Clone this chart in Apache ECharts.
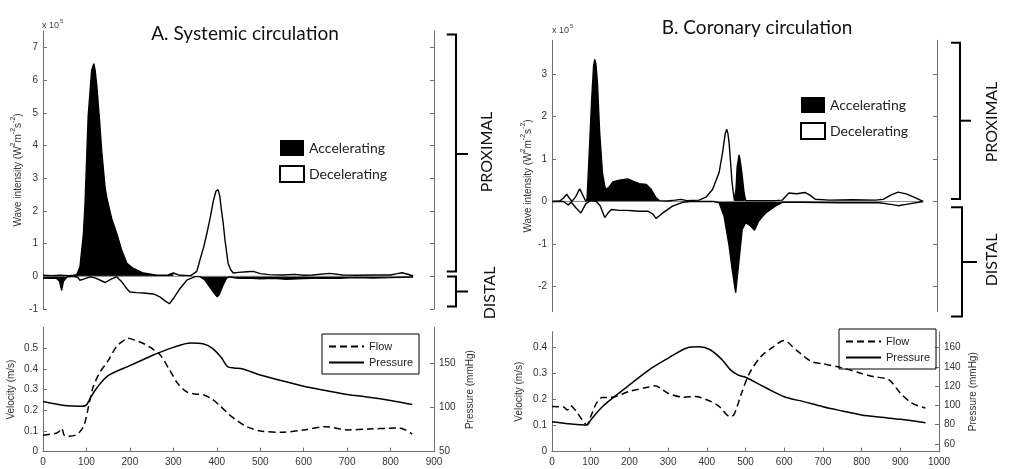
<!DOCTYPE html>
<html><head><meta charset="utf-8">
<script src="https://cdn.jsdelivr.net/npm/echarts@6/dist/echarts.min.js"></script>
<style>html,body{margin:0;padding:0;background:#fff}#c{width:1009px;height:469px}</style>
</head><body><div id="c"></div>
<script>
// ---------- Panel A: systemic circulation ----------
const sysForward = [[0,0.03],[20,0.02],[40,0.03],[60,0.02],[72,0.03],[78,0.06],[85,0.28],[93,1.3],[97,2.3],[104,4.9],[112,6.3],[117,6.5],[120,6.3],[124,5.8],[130,4.8],[135,3.85],[143,2.7],[147,2.4],[158,1.77],[170,1.3],[181,0.8],[193,0.4],[208,0.24],[231,0.1],[262,0.03],[285,0.03],[300,0.1],[315,0.03],[340,0.02],[354,0.15],[361,0.49],[370,0.9],[377,1.3],[385,1.8],[392,2.3],[398,2.6],[403,2.65],[407,2.45],[410,2.1],[415,1.6],[419,1.1],[426,0.4],[432,0.2],[438,0.1],[450,0.12],[470,0.14],[484,0.15],[500,0.08],[520,0.05],[550,0.04],[580,0.06],[600,0.03],[620,0.04],[660,0.09],[690,0.04],[720,0.03],[760,0.04],[800,0.04],[815,0.08],[826,0.11],[838,0.07],[852,0.01]];
const sysBackward = [[0,-0.05],[15,-0.06],[30,-0.05],[38,-0.15],[43,-0.43],[47,-0.15],[55,-0.02],[70,0],[80,-0.03],[85,-0.12],[95,-0.08],[108,-0.02],[120,-0.05],[143,-0.19],[158,-0.08],[170,-0.02],[180,-0.15],[193,-0.38],[200,-0.48],[215,-0.5],[231,-0.51],[254,-0.54],[269,-0.63],[281,-0.75],[291,-0.84],[300,-0.68],[315,-0.38],[331,-0.12],[350,-0.01],[361,-0.01],[372,-0.1],[384,-0.33],[393,-0.5],[401,-0.63],[406,-0.55],[411,-0.38],[417,-0.2],[423,-0.05],[430,-0.02],[450,-0.06],[470,-0.05],[500,-0.08],[530,-0.06],[560,-0.09],[600,-0.07],[640,-0.05],[680,-0.06],[720,-0.04],[760,-0.05],[800,-0.04],[852,-0.02]];
const sysForwardAccel = [[72,300]];
const sysBackwardAccel = [[0,60],[355,852]];
const sysFlow = [[0,0.08],[30,0.089],[38,0.1],[43,0.113],[50,0.076],[60,0.075],[75,0.08],[85,0.097],[95,0.13],[105,0.22],[115,0.31],[130,0.38],[150,0.44],[170,0.51],[190,0.543],[195,0.548],[210,0.54],[230,0.524],[250,0.5],[270,0.467],[290,0.4],[310,0.33],[330,0.29],[350,0.279],[370,0.274],[390,0.253],[410,0.217],[430,0.177],[450,0.145],[470,0.12],[500,0.1],[550,0.094],[600,0.105],[650,0.121],[700,0.105],[750,0.11],[800,0.113],[820,0.115],[850,0.085]];
const sysPressure = [[0,106.5],[50,102],[90,101.3],[100,102.8],[110,111.5],[125,122.7],[150,135.7],[200,147],[250,158.2],[300,167.6],[340,172.5],[370,171.3],[390,166.5],[410,156.4],[425,145.8],[440,144.4],[460,143.3],[500,136.5],[550,130],[600,123.8],[650,118.9],[700,114.4],[750,111.4],[800,107.7],[850,103.2]];

// ---------- Panel B: coronary circulation ----------
const corForward = [[0,0],[20,0.01],[30,0.08],[38,0.17],[45,0.08],[52,0.0],[62,0.12],[72,0.3],[80,0.15],[88,0.0],[91,0.05],[96,1.0],[103,2.4],[108,3.2],[111,3.35],[114,3.25],[118,2.8],[124,1.6],[131,0.68],[137,0.36],[141,0.28],[150,0.36],[158,0.46],[175,0.5],[197,0.53],[210,0.48],[227,0.42],[245,0.4],[258,0.28],[270,0.09],[279,0.02],[300,0.01],[320,0.03],[335,0.05],[350,0.02],[382,0.03],[400,0.1],[417,0.28],[434,0.68],[443,1.15],[450,1.6],[454,1.7],[457,1.6],[460,1.38],[464,0.9],[467,0.52],[471,0.2],[474,0.02],[478,0.3],[481,0.83],[486,1.1],[489,0.95],[493,0.68],[499,0.2],[503,0.02],[530,0.02],[580,0.02],[598,0.03],[615,0.2],[635,0.18],[658,0.21],[670,0.15],[684,0.05],[720,0.03],[780,0.04],[840,0.03],[860,0.05],[880,0.15],[899,0.22],[920,0.18],[940,0.1],[964,0]];
const corBackward = [[0,0],[30,0],[42,-0.08],[50,-0.02],[62,-0.15],[75,-0.27],[88,-0.05],[100,0.02],[115,0],[125,-0.1],[137,-0.38],[145,-0.28],[154,-0.19],[175,-0.21],[193,-0.21],[210,-0.22],[227,-0.23],[249,-0.23],[262,-0.3],[270,-0.4],[280,-0.33],[288,-0.27],[313,-0.11],[339,-0.02],[360,0],[420,0],[434,-0.03],[447,-0.35],[460,-1.05],[468,-1.6],[477,-2.15],[486,-1.37],[494,-0.66],[503,-0.5],[516,-0.58],[526,-0.68],[537,-0.46],[555,-0.27],[580,-0.11],[598,-0.02],[650,-0.02],[750,-0.03],[850,-0.03],[880,-0.07],[899,-0.1],[920,-0.07],[964,0]];
const corForwardAccel = [[88,282],[474,505]];
const corBackwardAccel = [[425,600]];
const corFlow = [[0,0.173],[30,0.171],[40,0.16],[48,0.176],[60,0.16],[75,0.128],[90,0.103],[100,0.135],[115,0.186],[130,0.208],[150,0.208],[200,0.231],[250,0.248],[265,0.253],[300,0.224],[340,0.209],[370,0.212],[400,0.199],[430,0.176],[460,0.135],[470,0.141],[490,0.225],[510,0.3],[540,0.365],[570,0.4],[600,0.426],[630,0.391],[670,0.346],[700,0.337],[750,0.321],[800,0.3],[830,0.288],[870,0.276],[900,0.225],[930,0.186],[965,0.167]];
const corPressure = [[0,83.2],[50,80.8],[90,79.7],[100,84.9],[130,98.7],[170,111.9],[200,121.3],[250,136.8],[300,149],[350,160],[380,161],[410,157.6],[440,147.2],[460,137.5],[480,131.7],[500,129.3],[550,118.9],[600,109.1],[650,104],[700,98.7],[750,94.3],[800,90.1],[850,87.7],[900,85.6],[965,82.1]];

// ---------- tick labels ----------
const sysWiTicks = [-1,0,1,2,3,4,5,6,7];
const corWiTicks = [-2,-1,0,1,2,3];
const sysVelTicks = [0,0.1,0.2,0.3,0.4,0.5];
const sysPresTicks = [50,100,150];
const corVelTicks = [0,0.1,0.2,0.3,0.4];
const corPresTicks = [60,80,100,120,140,160];

function mask(data, ranges) {
  return data.map(([t, v]) => ranges.some(([a, b]) => t >= a && t <= b) ? [t, v] : [t, null]);
}
function baseline(data) { return [[data[0][0], 0], [data[data.length - 1][0], 0]]; }

const AX = '#707070', LBL = '#333', FF = 'Liberation Sans';
function yAx(gi, min, max, ticks, opts) {
  return Object.assign({
    type: 'value', gridIndex: gi, min: min, max: max,
    splitLine: { show: false },
    axisLine: { show: true, lineStyle: { color: AX, width: 1 } },
    axisTick: { show: true, inside: true, length: 4, customValues: ticks, lineStyle: { color: AX } },
    axisLabel: { show: true, customValues: ticks, margin: 5, fontSize: 10, color: LBL, fontFamily: FF },
    nameLocation: 'middle', nameTextStyle: { fontSize: 10, color: LBL, fontFamily: FF }
  }, opts || {});
}
function xAx(gi, max, show) {
  return {
    type: 'value', gridIndex: gi, min: 0, max: max, interval: 100,
    splitLine: { show: false },
    axisLine: { show: show, onZero: false, lineStyle: { color: AX } },
    axisTick: { show: show, inside: true, length: 4, lineStyle: { color: AX } },
    axisLabel: { show: show, margin: 6, fontSize: 10, color: LBL, fontFamily: FF, formatter: v => String(v) }
  };
}
const wiName = '{n|Wave intensity (W}{s|2}{n|m}{s|-2}{n|s}{s|-2}{n|)}';
const wiRich = { n: { fontSize: 10, lineHeight: 13, color: LBL, fontFamily: FF, verticalAlign: 'bottom' },
                 s: { fontSize: 7, lineHeight: 13, color: LBL, fontFamily: FF, verticalAlign: 'top', padding: [0, 0, 5, 0] } };

function fill(name, data, ranges, xi, yi) {
  return { name: name, type: 'line', xAxisIndex: xi, yAxisIndex: yi, data: mask(data, ranges), symbol: 'none',
    lineStyle: { width: 0 }, itemStyle: { color: '#000' }, areaStyle: { color: '#000', opacity: 1, origin: 'auto' },
    z: 2, silent: true, connectNulls: false };
}
function outline(name, data, xi, yi) {
  return { name: name, type: 'line', xAxisIndex: xi, yAxisIndex: yi, data: data, symbol: 'none',
    lineStyle: { color: '#000', width: 1.4 }, itemStyle: { color: '#000' }, z: 4, silent: true };
}
function base(data, xi, yi) {
  return { type: 'line', xAxisIndex: xi, yAxisIndex: yi, data: baseline(data), symbol: 'none',
    lineStyle: { color: '#888', width: 1 }, z: 3, silent: true };
}

const accLegend = (l, t) => ({
  left: l, top: t, orient: 'vertical', icon: 'rect', itemWidth: 24, itemHeight: 16, itemGap: 9, padding: 0,
  selectedMode: false, textStyle: { fontFamily: 'Lato', fontSize: 14, color: '#222' },
  data: [{ name: 'Accelerating', itemStyle: { color: '#000' } },
         { name: 'Decelerating', itemStyle: { color: '#fff', borderColor: '#000', borderWidth: 2 } }]
});
const fpLegend = (l, t) => ({
  left: l, top: t, orient: 'vertical', itemWidth: 35, itemHeight: 10, itemGap: 5, padding: [7, 6, 6, 6],
  borderColor: '#000', borderWidth: 1, selectedMode: false,
  itemStyle: { color: 'rgba(0,0,0,0)', borderWidth: 0, opacity: 0 },
  textStyle: { fontFamily: FF, fontSize: 11, color: '#222' },
  data: ['Flow', 'Pressure']
});

const option = {
  animation: false,
  backgroundColor: '#fff',
  grid: [
    { left: 43, top: 31, width: 391, height: 278 },
    { left: 43, top: 327.5, width: 391, height: 124.2 },
    { left: 552, top: 40.3, width: 385, height: 271.4 },
    { left: 552, top: 331.7, width: 387, height: 120 }
  ],
  xAxis: [xAx(0, 900, false), xAx(1, 900, true), xAx(2, 1000, false), xAx(3, 1000, true)],
  yAxis: [
    yAx(0, -1, 7.5, sysWiTicks, { name: wiName, nameGap: 20, nameTextStyle: { rich: wiRich } }),
    yAx(0, -1, 7.5, sysWiTicks, { position: 'right', axisLabel: { show: false } }),
    yAx(1, 0, 0.6, sysVelTicks, { name: 'Velocity (m/s)', nameGap: 27 }),
    yAx(1, 50, 190, sysPresTicks, { position: 'right', name: 'Pressure (mmHg)', nameGap: 31, nameRotate: 90 }),
    yAx(2, -2.6, 3.8, corWiTicks, { name: wiName, nameGap: 19, nameTextStyle: { rich: wiRich } }),
    yAx(2, -2.6, 3.8, corWiTicks, { position: 'right', axisLabel: { show: false } }),
    yAx(3, 0, 0.46, corVelTicks, { name: 'Velocity (m/s)', nameGap: 28 }),
    yAx(3, 52, 176.6, corPresTicks, { position: 'right', name: 'Pressure (mmHg)', nameGap: 29, nameRotate: 90 })
  ],
  legend: [accLegend(279, 140), fpLegend(322, 334), accLegend(800, 97), fpLegend(839, 329)],
  series: [
    fill('Accelerating', sysForward, sysForwardAccel, 0, 0),
    fill('Accelerating', sysBackward, sysBackwardAccel, 0, 0),
    base(sysForward, 0, 0),
    outline('Decelerating', sysForward, 0, 0),
    outline('Decelerating', sysBackward, 0, 0),
    fill('Accelerating', corForward, corForwardAccel, 2, 4),
    fill('Accelerating', corBackward, corBackwardAccel, 2, 4),
    base(corForward, 2, 4),
    outline('Decelerating', corForward, 2, 4),
    outline('Decelerating', corBackward, 2, 4),
    { name: 'Flow', type: 'line', xAxisIndex: 1, yAxisIndex: 2, data: sysFlow, symbol: 'none', smooth: 0.3,
      lineStyle: { color: '#000', width: 1.5, type: [7, 4] }, itemStyle: { color: '#000' } },
    { name: 'Pressure', type: 'line', xAxisIndex: 1, yAxisIndex: 3, data: sysPressure, symbol: 'none', smooth: 0.3,
      lineStyle: { color: '#000', width: 1.5 }, itemStyle: { color: '#000' } },
    { name: 'Flow', type: 'line', xAxisIndex: 3, yAxisIndex: 6, data: corFlow, symbol: 'none', smooth: 0.3,
      lineStyle: { color: '#000', width: 1.5, type: [7, 4] }, itemStyle: { color: '#000' } },
    { name: 'Pressure', type: 'line', xAxisIndex: 3, yAxisIndex: 7, data: corPressure, symbol: 'none', smooth: 0.3,
      lineStyle: { color: '#000', width: 1.5 }, itemStyle: { color: '#000' } }
  ],
  graphic: [
    { type: 'text', style: { text: 'A. Systemic circulation', x: 245, y: 34, align: 'center', verticalAlign: 'middle', fontFamily: 'Lato', fontSize: 19, fill: '#111' } },
    { type: 'text', style: { text: 'B. Coronary circulation', x: 757, y: 28, align: 'center', verticalAlign: 'middle', fontFamily: 'Lato', fontSize: 19, fill: '#111' } },
    { type: 'text', style: { text: '{n|x 10}{s|5}', x: 42, y: 24, verticalAlign: 'middle', rich: { n: { fontSize: 9, fill: '#444', fontFamily: FF, verticalAlign: 'bottom', lineHeight: 12 }, s: { fontSize: 6, fill: '#444', fontFamily: FF, verticalAlign: 'top', lineHeight: 12, padding: [0, 0, 4, 1] } } } },
    { type: 'text', style: { text: '{n|x 10}{s|5}', x: 552, y: 29, verticalAlign: 'middle', rich: { n: { fontSize: 9, fill: '#444', fontFamily: FF, verticalAlign: 'bottom', lineHeight: 12 }, s: { fontSize: 6, fill: '#444', fontFamily: FF, verticalAlign: 'top', lineHeight: 12, padding: [0, 0, 4, 1] } } } },
    { type: 'polyline', shape: { points: [[446.7, 34.5], [456, 34.5], [456, 271.5], [446.7, 271.5]] }, style: { stroke: '#000', lineWidth: 2, fill: null } },
    { type: 'line', shape: { x1: 456, y1: 154, x2: 468, y2: 154 }, style: { stroke: '#000', lineWidth: 2 } },
    { type: 'polyline', shape: { points: [[447, 276.5], [456, 276.5], [456, 306.5], [447, 306.5]] }, style: { stroke: '#000', lineWidth: 2, fill: null } },
    { type: 'line', shape: { x1: 456, y1: 291.5, x2: 468, y2: 291.5 }, style: { stroke: '#000', lineWidth: 2 } },
    { type: 'polyline', shape: { points: [[951, 42.7], [960, 42.7], [960, 199], [951, 199]] }, style: { stroke: '#000', lineWidth: 2, fill: null } },
    { type: 'line', shape: { x1: 960, y1: 120.7, x2: 971, y2: 120.7 }, style: { stroke: '#000', lineWidth: 2 } },
    { type: 'polyline', shape: { points: [[951, 207.3], [962, 207.3], [962, 316.5], [951, 316.5]] }, style: { stroke: '#000', lineWidth: 2, fill: null } },
    { type: 'line', shape: { x1: 962, y1: 262, x2: 977, y2: 262 }, style: { stroke: '#000', lineWidth: 2 } },
    { type: 'text', x: 487, y: 152, rotation: Math.PI / 2, style: { text: 'PROXIMAL', align: 'center', verticalAlign: 'middle', fontFamily: 'Lato', fontSize: 16, fill: '#111' } },
    { type: 'text', x: 490, y: 293, rotation: Math.PI / 2, style: { text: 'DISTAL', align: 'center', verticalAlign: 'middle', fontFamily: 'Lato', fontSize: 16, fill: '#111' } },
    { type: 'text', x: 992, y: 122, rotation: Math.PI / 2, style: { text: 'PROXIMAL', align: 'center', verticalAlign: 'middle', fontFamily: 'Lato', fontSize: 16, fill: '#111' } },
    { type: 'text', x: 992, y: 260, rotation: Math.PI / 2, style: { text: 'DISTAL', align: 'center', verticalAlign: 'middle', fontFamily: 'Lato', fontSize: 16, fill: '#111' } }
  ]
};
const chart = echarts.init(document.getElementById('c'), null, { renderer: 'canvas' });
chart.setOption(option);
</script></body></html>
